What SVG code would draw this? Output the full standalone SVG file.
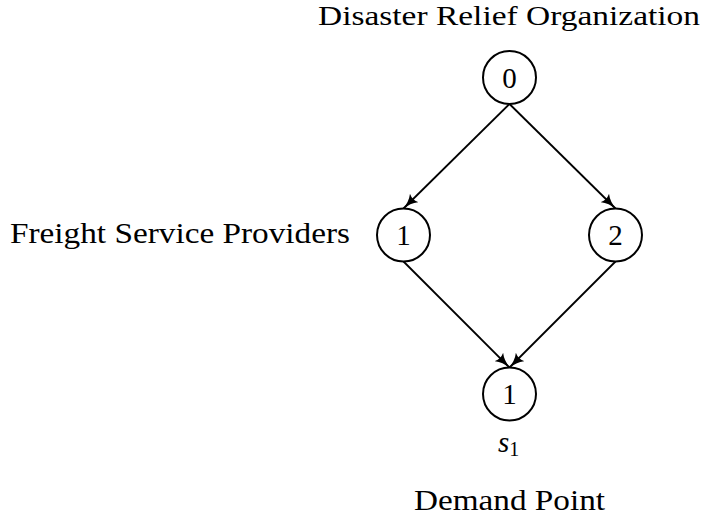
<svg xmlns="http://www.w3.org/2000/svg" width="702" height="523" viewBox="0 0 702 523">
<style>
  text { font-family: "Liberation Serif", "Times New Roman", "DejaVu Serif", "Noto Serif", serif; fill: #000; }
  .lbl { font-size: 29px; }
  .num { font-size: 29px; text-anchor: middle; }
  .node circle { fill: #fff; stroke: #000; stroke-width: 2; }
  .edge { stroke: #000; stroke-width: 1.8; fill: none; marker-end: url(#arr); }
</style>
<defs>
  <marker id="arr" viewBox="0 0 16 12" refX="15" refY="6" markerWidth="16" markerHeight="12" markerUnits="userSpaceOnUse" orient="auto">
    <path d="M0,0 Q6,5 16,6 Q6,7 0,12 Q3,6 0,0 Z" fill="#000"/>
  </marker>
</defs>
<rect width="702" height="523" fill="#fff"/>
<g id="connectors">
  <line class="edge" x1="509.5" y1="104" x2="403.5" y2="208.5"/>
  <line class="edge" x1="509.5" y1="104" x2="615.5" y2="208.5"/>
  <line class="edge" x1="403.5" y1="261.5" x2="509.5" y2="367.5"/>
  <line class="edge" x1="615.5" y1="261.5" x2="509.5" y2="367.5"/>
</g>
<g id="node0" class="node">
  <circle cx="509.5" cy="77.5" r="26.5"/>
  <text class="num" x="509.5" y="87.5">0</text>
</g>
<g id="node1" class="node">
  <circle cx="403.5" cy="235" r="26.5"/>
  <text class="num" x="403.5" y="245">1</text>
</g>
<g id="node2" class="node">
  <circle cx="615.5" cy="235" r="26.5"/>
  <text class="num" x="615.5" y="245">2</text>
</g>
<g id="node3" class="node">
  <circle cx="509.5" cy="394" r="26.5"/>
  <text class="num" x="509.5" y="404">1</text>
</g>
<g id="labels">
  <text x="318" y="25" style="font-size:28px" textLength="382" lengthAdjust="spacingAndGlyphs">Disaster Relief Organization</text>
  <text class="lbl" x="10" y="242.5" textLength="340" lengthAdjust="spacingAndGlyphs">Freight Service Providers</text>
  <text x="498" y="451.5" style="font-size:29px;font-style:italic">s<tspan dy="4" style="font-size:20px;font-style:normal">1</tspan></text>
  <text class="lbl" x="414" y="510" textLength="191" lengthAdjust="spacingAndGlyphs">Demand Point</text>
</g>
</svg>
